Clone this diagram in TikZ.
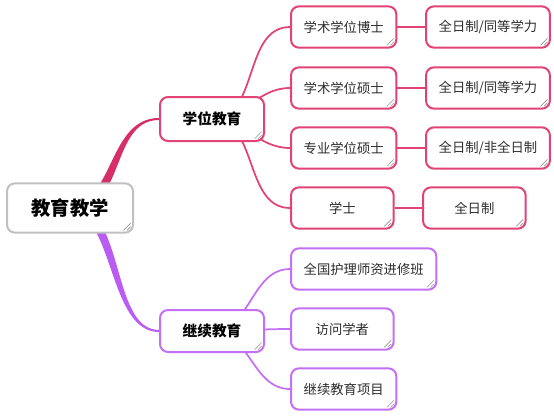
\documentclass[tikz,border=0pt]{standalone}
\usepackage{fontspec}
\setmainfont{Noto Sans CJK SC}
\usetikzlibrary{backgrounds,calc}
\definecolor{figRoot}{RGB}{192,192,192}
\definecolor{figPink}{RGB}{226,66,116}
\definecolor{figPinkDark}{RGB}{214,46,104}
\definecolor{figPurple}{RGB}{196,112,246}
\definecolor{figPurpleDark}{RGB}{186,92,244}
\definecolor{figGrip}{RGB}{150,150,150}
\definecolor{figInk}{RGB}{45,45,45}

\begin{document}
\begin{tikzpicture}[
  x=0.75pt,
  y=-0.75pt,
  grip/.style={path picture={
    \draw[figGrip, line width=0.5pt]
      ([shift={(-7pt,1.8pt)}]path picture bounding box.south east) -- ([shift={(-1.8pt,7pt)}]path picture bounding box.south east)
      ([shift={(-4.4pt,1.8pt)}]path picture bounding box.south east) -- ([shift={(-1.8pt,4.4pt)}]path picture bounding box.south east);}},
  topic/.style={draw, fill=white, rounded corners=6pt, line width=1.5pt, align=center, inner xsep=9.5pt, inner ysep=0pt, grip},
  rootnode/.style={topic, draw=figRoot, minimum width=94.5pt, minimum height=37pt, font=\fontsize{14.5}{17}\selectfont\bfseries},
  mainpink/.style={topic, draw=figPink, minimum width=78pt, minimum height=33pt, font=\fontsize{11}{13}\selectfont\bfseries},
  mainpurple/.style={topic, draw=figPurple, minimum width=78pt, minimum height=31.5pt, font=\fontsize{11}{13}\selectfont\bfseries},
  leafpink/.style={topic, draw=figPink, anchor=west, minimum width=77pt, minimum height=31pt, text=figInk, font=\fontsize{10}{12}\selectfont},
  leafpurple/.style={leafpink, draw=figPurple},
  pinklink/.style={draw=figPink, line width=1.3pt},
  purplelink/.style={draw=figPurple, line width=1.3pt}
]
\useasboundingbox (0,0) rectangle (554,415);

% centre
\node[rootnode] (root) at (70,208) {教育教学};

% main topics
\node[mainpink] (degree) at (212,119) {学位教育};
\node[mainpurple] (further) at (212,331) {继续教育};

% degree branch
\node[leafpink] (phd) at (290,27) {学术学位博士};
\node[leafpink] (phdmode) at (425,27) {全日制/同等学力};
\node[leafpink] (acadms) at (290,88) {学术学位硕士};
\node[leafpink] (acadmode) at (425,88) {全日制/同等学力};
\node[leafpink] (profms) at (290,148) {专业学位硕士};
\node[leafpink] (profmode) at (425,148) {全日制/非全日制};
\node[leafpink] (bach) at (290,208) {学士};
\node[leafpink] (bachmode) at (422,208) {全日制};

% further education branch
\node[leafpurple] (nurse) at (290,269) {全国护理师资进修班};
\node[leafpurple] (visit) at (290,329) {访问学者};
\node[leafpurple] (project) at (290,389) {继续教育项目};

\begin{scope}[on background layer]
\fill[figPinkDark] ($(root.center)+(0,-4)$) .. controls ($(root.center)+(44,-4)$) and ($(degree.west)+(-51,-1)$) .. ($(degree.west)+(0,-1)$)
  -- ($(degree.west)+(0,1)$) .. controls ($(degree.west)+(-49,1)$) and ($(root.center)+(56,4)$) .. ($(root.center)+(0,4)$) -- cycle;
\fill[figPurpleDark] ($(root.center)+(0,-4)$) .. controls ($(root.center)+(56,-4)$) and ($(further.west)+(-49,-1)$) .. ($(further.west)+(0,-1)$)
  -- ($(further.west)+(0,1)$) .. controls ($(further.west)+(-51,1)$) and ($(root.center)+(44,4)$) .. ($(root.center)+(0,4)$) -- cycle;

\draw[pinklink] (degree.center) to[out=0, in=180] (phd.west);
\draw[pinklink] (degree.center) to[out=0, in=180] (acadms.west);
\draw[pinklink] (degree.center) to[out=0, in=180] (profms.west);
\draw[pinklink] (degree.center) to[out=0, in=180] (bach.west);

\draw[purplelink] (further.center) to[out=0, in=180] (nurse.west);
\draw[purplelink] (further.center) to[out=0, in=180] (visit.west);
\draw[purplelink] (further.center) to[out=0, in=180] (project.west);
\end{scope}

\draw[pinklink] (phd.east) -- (phdmode.west);
\draw[pinklink] (acadms.east) -- (acadmode.west);
\draw[pinklink] (profms.east) -- (profmode.west);
\draw[pinklink] (bach.east) -- (bachmode.west);
\end{tikzpicture}
\end{document}
